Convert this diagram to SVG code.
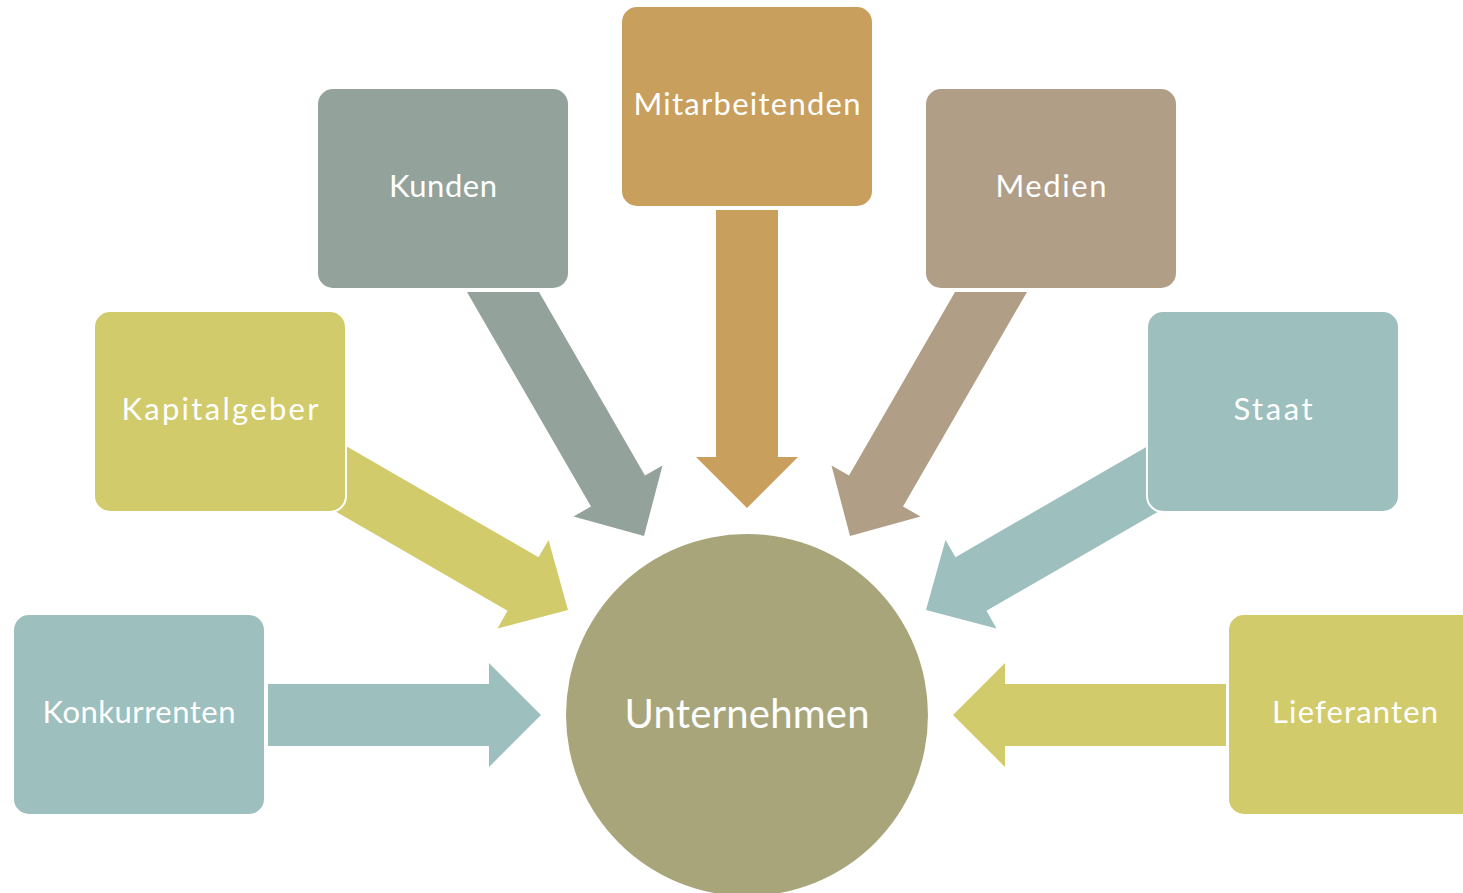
<svg xmlns="http://www.w3.org/2000/svg" width="1463" height="893" viewBox="0 0 1463 893">
<style>
.box{stroke:#ffffff;stroke-width:2}
.lbl{font-family:Lato,"Open Sans","Liberation Sans",sans-serif;font-size:31px;fill:#ffffff;text-anchor:middle}
.big{font-size:40px}
.gold{fill:#C89F5C}
.sage{fill:#93A39B}
.taupe{fill:#B09E87}
.olive{fill:#D2CB6C}
.teal{fill:#9DBFBD}
</style>
<rect width="1463" height="893" fill="#ffffff"/>
<g id="connectors">
<polygon class="gold" points="716,210 778,210 778,457 798,457 747,508 696,457 716,457"/>
<polygon class="sage" points="467,292 539,292 645,475.5 662.5,465.5 644,536 573.5,516.5 591,506.5"/>
<polygon class="taupe" points="1027,292 955,292 849,475.5 831.5,465.5 850,536 920.5,516.5 903,506.5"/>
<polygon class="olive" points="330,436.8 538.5,557.2 548.5,540 568,610 497.5,628.5 507.5,610.8 330,508.3"/>
<polygon class="teal" points="1164,436.8 955.5,557.2 945.5,540 926,610 996.5,628.5 986.5,610.8 1164,508.3"/>
<polygon class="teal" points="268,684 489,684 489,663 541,715 489,767 489,746 268,746"/>
<polygon class="olive" points="1226,684 1005,684 1005,663 953,715 1005,767 1005,746 1226,746"/>
</g>
<g id="node-unternehmen">
<circle cx="747" cy="715" r="181" fill="#A8A57B"/>
<text class="lbl big" x="747" y="728" textLength="245" lengthAdjust="spacing">Unternehmen</text>
</g>
<g id="node-mitarbeitenden">
<rect class="box gold" x="621" y="6" width="252" height="201" rx="16"/>
<text class="lbl" x="747" y="115" textLength="227" lengthAdjust="spacing">Mitarbeitenden</text>
</g>
<g id="node-kunden">
<rect class="box sage" x="317" y="88" width="252" height="201" rx="16"/>
<text class="lbl" x="443" y="197" textLength="108" lengthAdjust="spacing">Kunden</text>
</g>
<g id="node-medien">
<rect class="box taupe" x="925" y="88" width="252" height="201" rx="16"/>
<text class="lbl" x="1051" y="197" textLength="111" lengthAdjust="spacing">Medien</text>
</g>
<g id="node-kapitalgeber">
<rect class="box olive" x="94" y="311" width="252" height="201" rx="16"/>
<text class="lbl" x="220" y="420" textLength="197" lengthAdjust="spacing">Kapitalgeber</text>
</g>
<g id="node-staat">
<rect class="box teal" x="1147" y="311" width="252" height="201" rx="16"/>
<text class="lbl" x="1273" y="420" textLength="79" lengthAdjust="spacing">Staat</text>
</g>
<g id="node-konkurrenten">
<rect class="box teal" x="13" y="614" width="252" height="201" rx="16"/>
<text class="lbl" x="139" y="723" textLength="193" lengthAdjust="spacing">Konkurrenten</text>
</g>
<g id="node-lieferanten">
<rect class="box olive" x="1228" y="614" width="252" height="201" rx="16"/>
<text class="lbl" x="1355" y="723" textLength="166" lengthAdjust="spacing">Lieferanten</text>
</g>
</svg>
